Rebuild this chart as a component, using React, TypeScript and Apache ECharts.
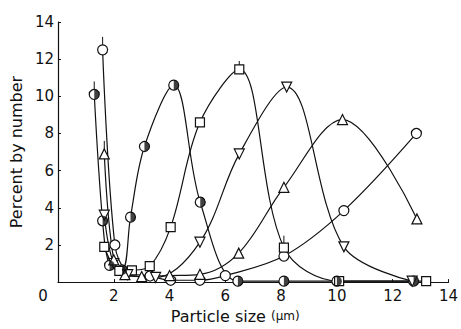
import React, { useEffect, useRef } from "react";
import * as echarts from "echarts";

const xTicks = [0, 2, 4, 6, 8, 10, 12, 14];
const yTicks = [0, 2, 4, 6, 8, 10, 12, 14];

const openCircle = [[1.6, 12.5], [2.04, 2.0], [2.5, 0.55], [3.3, 0.33], [4.04, 0.1], [5.09, 0.1], [6.0, 0.35], [8.1, 1.4], [10.25, 3.85], [12.85, 8.0]];
const halfCircle = [[1.3, 10.1], [1.6, 3.3], [1.85, 0.9], [2.3, 0.65], [2.6, 3.5], [3.1, 7.3], [4.15, 10.6], [5.1, 4.3], [6.45, 0.05], [8.1, 0.05], [10.0, 0.05], [12.75, 0.05]];
const square = [[1.66, 1.9], [2.2, 0.6], [2.65, 0.63], [3.29, 0.86], [4.04, 2.96], [5.09, 8.6], [6.5, 11.45], [8.1, 1.86], [10.08, 0.05], [13.2, 0.05]];
const downTri = [[1.66, 3.6], [2.0, 1.0], [2.5, 0.4], [3.5, 0.25], [5.09, 2.15], [6.5, 6.9], [8.2, 10.5], [10.25, 1.9], [12.7, 0.05]];
const upTri = [[1.66, 6.9], [2.0, 1.2], [2.4, 0.4], [3.0, 0.3], [4.0, 0.35], [5.09, 0.42], [6.48, 1.56], [8.1, 5.1], [10.2, 8.75], [12.87, 3.4]];
const errorBars = [[1.6, 12.5, 13.2], [1.3, 10.1, 10.8], [1.66, 6.9, 7.6], [8.1, 1.86, 2.5], [6.5, 11.45, 11.9]];

const FONT = "DejaVu Sans";
const INK = "#111";

export default function App() {
  const ref = useRef<HTMLDivElement>(null);
  useEffect(() => {
    document.body.style.margin = "0";
    if (!ref.current) return;
    const chart = echarts.init(ref.current, null, { renderer: "svg" });
    const lineBase = (name: string, data: number[][], symbol: string, extra: any = {}) => ({
      name,
      type: "line",
      data,
      smooth: 0.35,
      symbol,
      symbolSize: 10,
      showSymbol: true,
      lineStyle: { color: INK, width: 1.2 },
      itemStyle: { color: "#fff", borderColor: INK, borderWidth: 1.2 },
      z: 3,
      ...extra,
    });
    chart.setOption({
      animation: false,
      backgroundColor: "#fff",
      grid: { left: 49, right: 10, top: 22, bottom: 41 },
      xAxis: {
        type: "value",
        min: 0,
        max: 14,
        interval: 2,
        name: "Particle size {u|(μm)}",
        nameLocation: "middle",
        nameGap: 25,
        nameTextStyle: {
          fontFamily: FONT, fontSize: 16, color: INK, padding: [0, 36, 0, 0],
          rich: { u: { fontFamily: FONT, fontSize: 12, color: INK } },
        },
        axisLine: { lineStyle: { color: INK, width: 1.2 } },
        axisTick: { inside: true, length: 3, lineStyle: { color: INK } },
        splitLine: { show: false },
        axisLabel: {
          fontFamily: FONT, fontSize: 15, color: INK, margin: 6,
          formatter: (v: number) => (v === 0 ? "{z|0}" : xTicks.includes(v) ? String(v) : ""),
          rich: { z: { fontFamily: FONT, fontSize: 15, color: INK, padding: [0, 30, 0, 0] } },
        },
      },
      yAxis: {
        type: "value",
        min: 0,
        max: 14,
        interval: 2,
        name: "Percent by number",
        nameLocation: "middle",
        nameGap: 10,
        nameTextStyle: { fontFamily: FONT, fontSize: 16, color: INK },
        axisLine: { show: true, lineStyle: { color: INK, width: 1.2 } },
        axisTick: { show: true, inside: true, length: 3, lineStyle: { color: INK } },
        splitLine: { show: false },
        axisLabel: {
          fontFamily: FONT, fontSize: 15, color: INK, margin: 4, showMinLabel: false,
          formatter: (v: number) => (yTicks.includes(v) ? String(v) : ""),
        },
      },
      series: [
        {
          type: "custom",
          z: 1,
          data: errorBars,
          renderItem: (params: any, api: any) => {
            const p1 = api.coord([api.value(0), api.value(1)]);
            const p2 = api.coord([api.value(0), api.value(2)]);
            return {
              type: "line",
              shape: { x1: p1[0], y1: p1[1], x2: p2[0], y2: p2[1] },
              style: { stroke: INK, lineWidth: 1 },
            };
          },
        },
        lineBase("open circle", openCircle, "circle"),
        lineBase("half circle", halfCircle, "circle"),
        {
          type: "scatter",
          data: halfCircle,
          symbol: "path://M0,0 A10,10 0 0 1 0,20 Z",
          symbolSize: [5, 10],
          symbolOffset: [2.5, 0],
          itemStyle: { color: INK },
          z: 4,
        },
        lineBase("square", square, "rect", { symbolSize: 9 }),
        lineBase("down triangle", downTri, "triangle", { symbolRotate: 180 }),
        lineBase("up triangle", upTri, "triangle"),
      ],
    });
    return () => chart.dispose();
  }, []);
  return <div ref={ref} style={{ width: 461, height: 329 }} />;
}
